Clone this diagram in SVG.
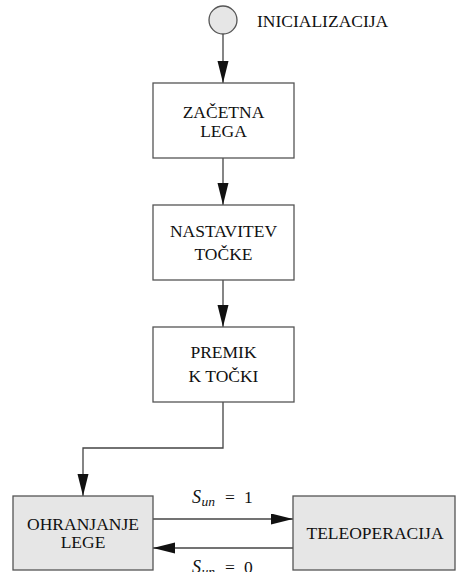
<svg xmlns="http://www.w3.org/2000/svg" width="457" height="572" viewBox="0 0 457 572">
  <style>
    .box { fill: #ffffff; stroke: #555555; stroke-width: 1.3; }
    .gbox { fill: #e6e6e6; stroke: #555555; stroke-width: 1.3; }
    text { font-family: "Liberation Serif", "Times New Roman", "DejaVu Serif", serif; font-size: 17.5px; fill: #111111; }
    .lbl { text-anchor: middle; }
    .it { font-style: italic; font-size: 18px; }
    .sub { font-style: italic; font-size: 13.5px; }
    .edge { fill: none; stroke: #444444; stroke-width: 1.3; }
  </style>
  <defs>
    <marker id="arrow" markerUnits="userSpaceOnUse" markerWidth="22" markerHeight="12" refX="22" refY="5.5" orient="auto">
      <path d="M0,0 L22,5.5 L0,11 Z" fill="#111111"/>
    </marker>
  </defs>

  <g id="connectors">
    <line class="edge" x1="223" y1="34" x2="223" y2="83" marker-end="url(#arrow)"/>
    <line class="edge" x1="223" y1="158" x2="223" y2="205" marker-end="url(#arrow)"/>
    <line class="edge" x1="223" y1="280" x2="223" y2="327" marker-end="url(#arrow)"/>
    <polyline class="edge" points="223,402 223,448 83,448 83,496" marker-end="url(#arrow)"/>
    <line class="edge" x1="153" y1="519" x2="293" y2="519" marker-end="url(#arrow)"/>
    <line class="edge" x1="293" y1="548" x2="153" y2="548" marker-end="url(#arrow)"/>
    <!-- transition conditions -->
    <text y="503"><tspan class="it" x="192">S</tspan><tspan class="sub" x="201.5" y="506">un</tspan><tspan x="225" y="503">=</tspan><tspan x="244">1</tspan></text>
    <text y="573"><tspan class="it" x="192">S</tspan><tspan class="sub" x="201.5" y="576">un</tspan><tspan x="225" y="573">=</tspan><tspan x="244">0</tspan></text>
  </g>

  <g id="init">
    <circle cx="223" cy="20" r="14" fill="#e6e6e6" stroke="#555555" stroke-width="1.3"/>
    <text x="257" y="27">INICIALIZACIJA</text>
  </g>

  <g id="zacetna-lega">
    <rect class="box" x="153" y="83" width="141" height="75"/>
    <text class="lbl" x="223.5" y="118">ZAČETNA</text>
    <text class="lbl" x="223.5" y="137">LEGA</text>
  </g>

  <g id="nastavitev-tocke">
    <rect class="box" x="153" y="205" width="141" height="75"/>
    <text class="lbl" x="223.5" y="237">NASTAVITEV</text>
    <text class="lbl" x="223.5" y="260">TOČKE</text>
  </g>

  <g id="premik-k-tocki">
    <rect class="box" x="153" y="327" width="141" height="75"/>
    <text class="lbl" x="223.5" y="358">PREMIK</text>
    <text class="lbl" x="223.5" y="382">K TOČKI</text>
  </g>

  <g id="ohranjanje-lege">
    <rect class="gbox" x="13" y="496" width="140" height="74"/>
    <text class="lbl" x="83" y="530">OHRANJANJE</text>
    <text class="lbl" x="83" y="548">LEGE</text>
  </g>

  <g id="teleoperacija">
    <rect class="gbox" x="293" y="496" width="162" height="74"/>
    <text class="lbl" x="375" y="539">TELEOPERACIJA</text>
  </g>
</svg>
